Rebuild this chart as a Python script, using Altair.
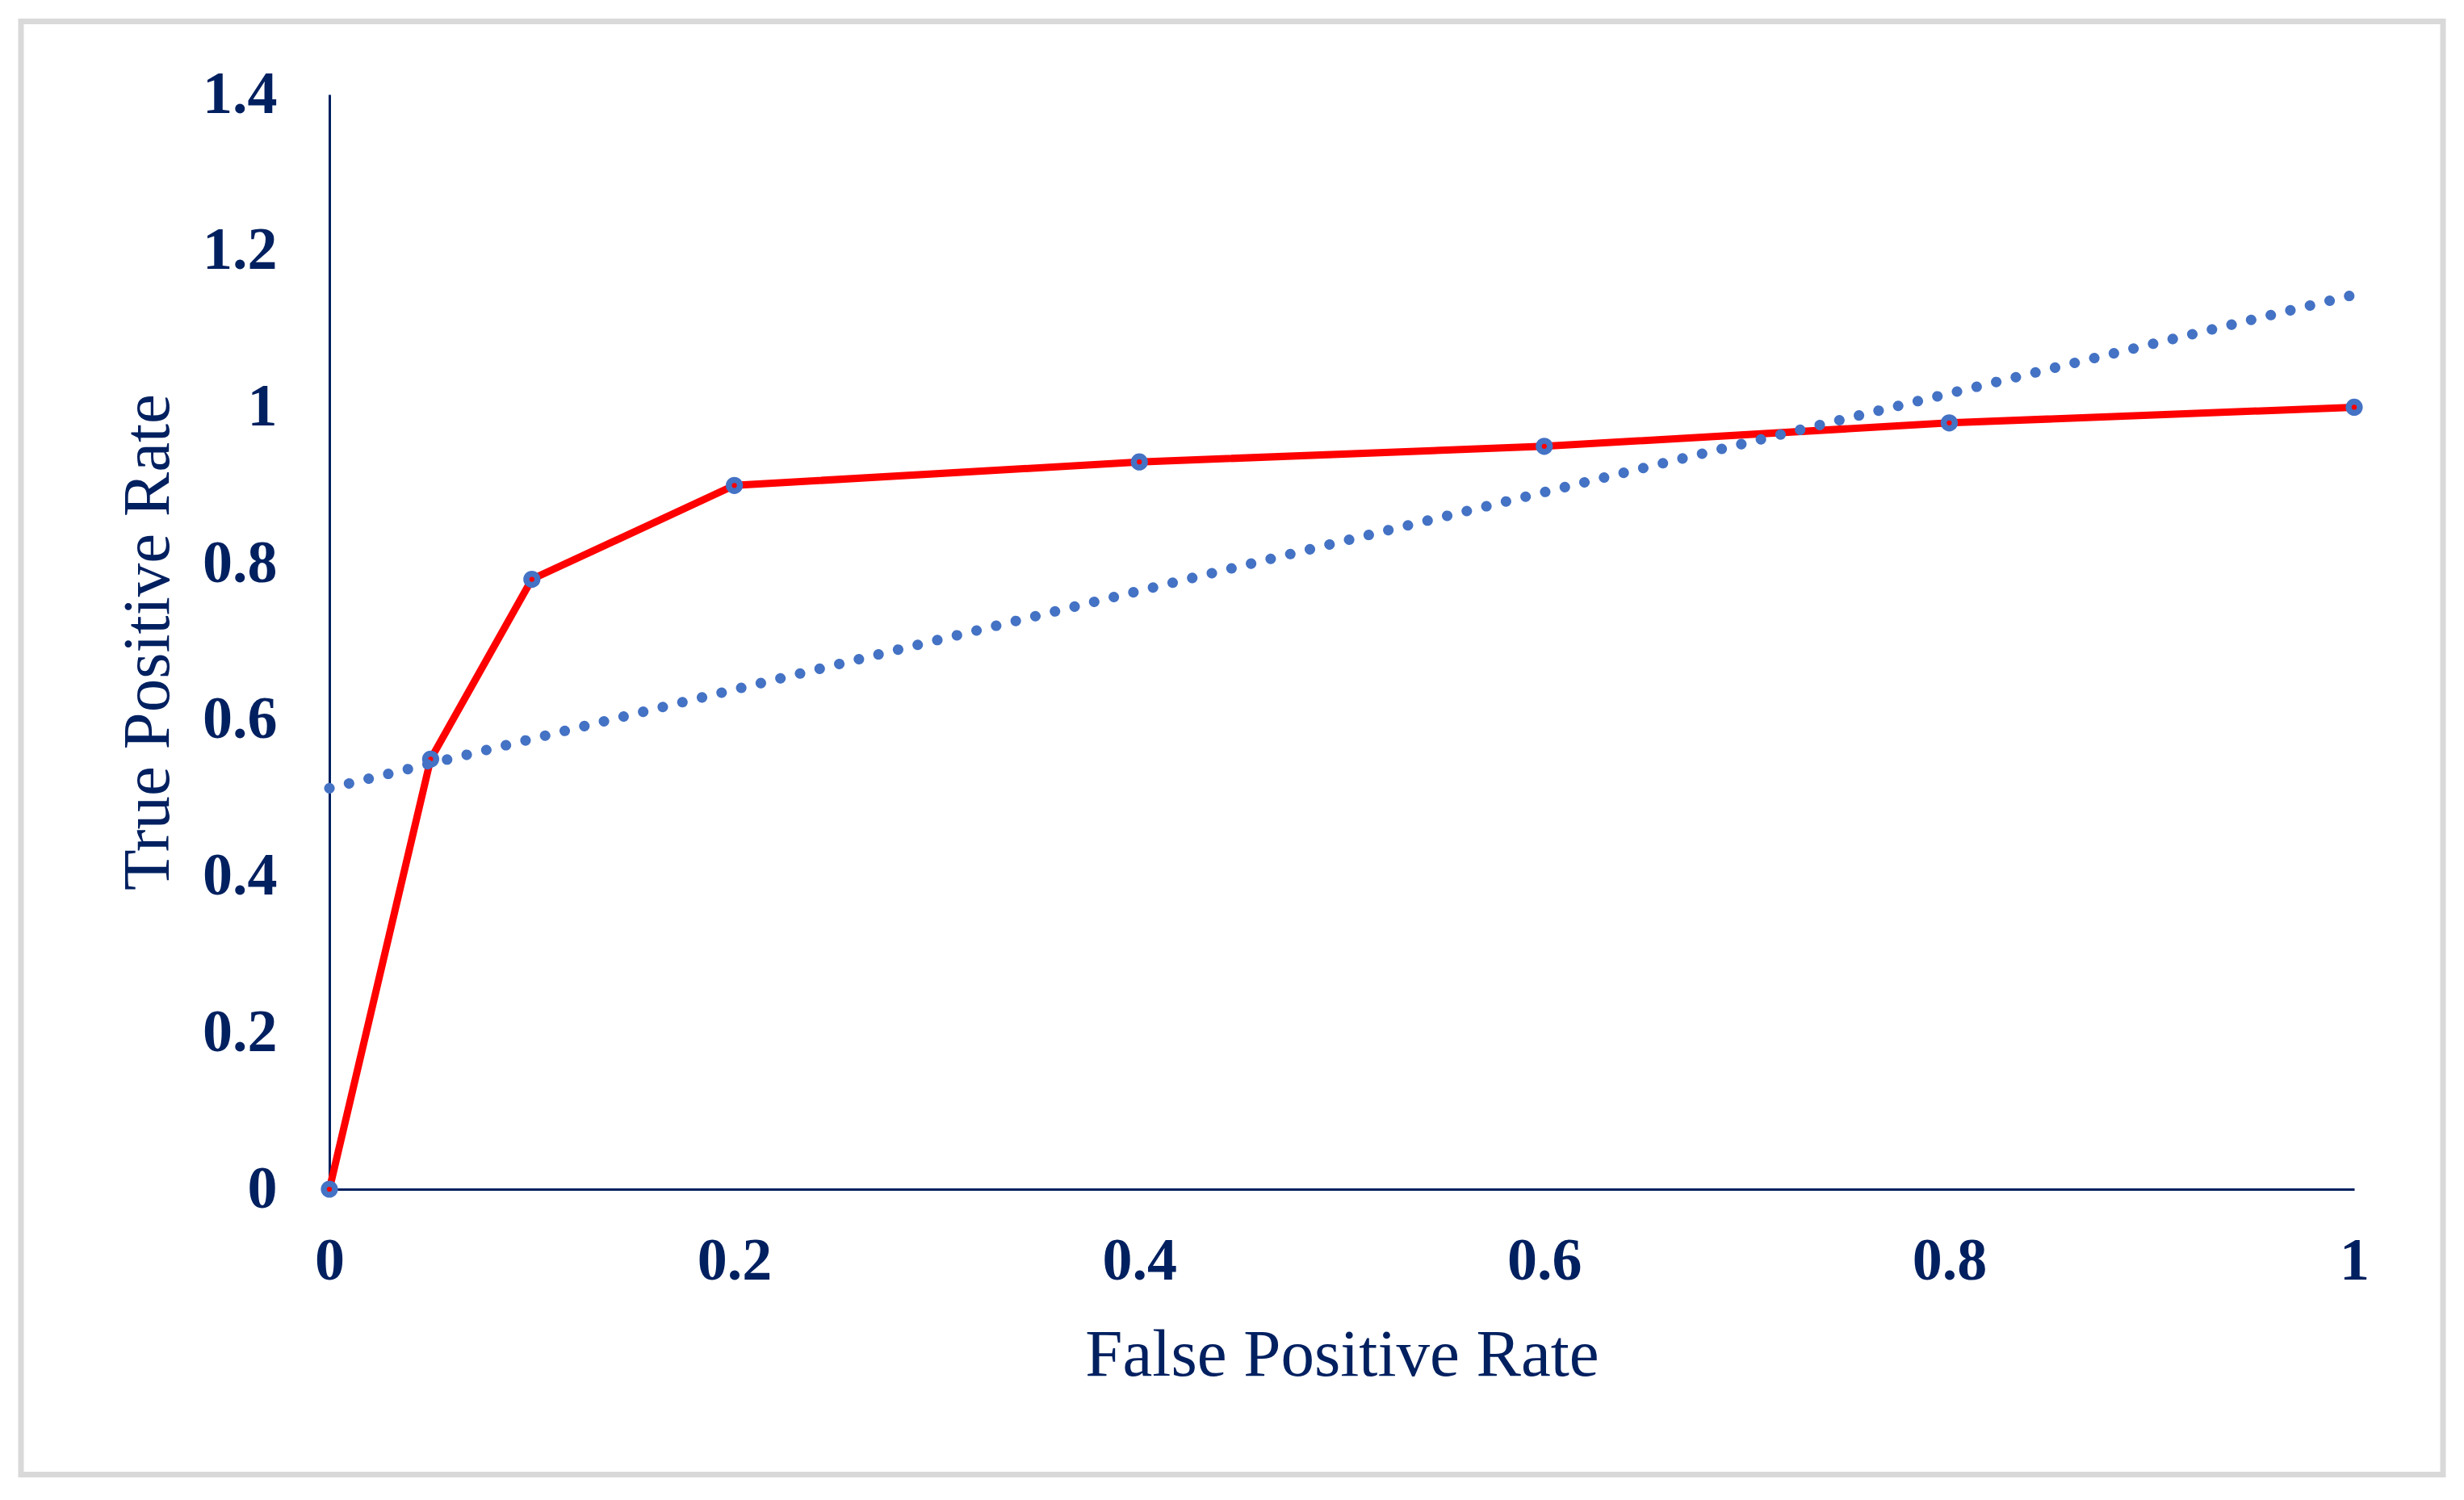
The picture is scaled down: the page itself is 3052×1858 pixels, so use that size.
import altair as alt
import pandas as pd

# Data
fpr = [0.0, 0.05, 0.1, 0.2, 0.4, 0.6, 0.8, 1.0]
tpr = [0.0, 0.55, 0.78, 0.90, 0.93, 0.95, 0.98, 1.0]
x_ticks = [0, 0.2, 0.4, 0.6, 0.8, 1]
y_ticks = [0, 0.2, 0.4, 0.6, 0.8, 1, 1.2, 1.4]

df = pd.DataFrame({"fpr": fpr, "tpr": tpr})

NAVY = "#002060"
FONT = "Liberation Serif"
W, H = 2508, 1356

x_enc = alt.X(
    "fpr:Q",
    scale=alt.Scale(domain=[0, 1], nice=False, zero=False),
    axis=alt.Axis(
        title="False Positive Rate",
        values=x_ticks,
        format="~g",
        grid=False,
        ticks=False,
        tickSize=0,
        domainColor=NAVY,
        domainWidth=3,
        labelColor=NAVY,
        labelFont=FONT,
        labelFontSize=74,
        labelFontWeight="bold",
        labelBaseline="top",
        labelPadding=53,
        labelFlush=False,
        labelOverlap=False,
        titleColor=NAVY,
        titleFont=FONT,
        titleFontSize=83,
        titleFontWeight="normal",
        titleBaseline="middle",
        titleX=W / 2,
        titleY=205,
    ),
)
y_enc = alt.Y(
    "tpr:Q",
    scale=alt.Scale(domain=[0, 1.4], nice=False, zero=False),
    axis=alt.Axis(
        title="True Positive Rate",
        values=y_ticks,
        format="~g",
        grid=False,
        ticks=False,
        tickSize=0,
        domainColor=NAVY,
        domainWidth=3,
        labelColor=NAVY,
        labelFont=FONT,
        labelFontSize=74,
        labelFontWeight="bold",
        labelPadding=65,
        labelFlush=False,
        labelOverlap=False,
        titleColor=NAVY,
        titleFont=FONT,
        titleFontSize=83,
        titleFontWeight="normal",
        titleBaseline="middle",
        titleAngle=270,
        titleX=-225,
        titleY=H / 2,
    ),
)

base = alt.Chart(df)

frame = base.transform_filter("datum.fpr == 0").mark_rect(
    fill="transparent", stroke="#D9D9D9", strokeWidth=7, clip=False
).encode(
    x=alt.value(-382), x2=alt.value(2618), y=alt.value(-90.5), y2=alt.value(1709.5)
)

roc_line = base.mark_line(color="#FF0000", strokeWidth=9).encode(
    x=x_enc, y=y_enc, order="fpr:Q"
)

markers = base.mark_point(
    shape="circle",
    filled=True,
    fill="#FF0000",
    stroke="#4472C4",
    strokeWidth=7.5,
    size=189,
    opacity=1,
).encode(x="fpr:Q", y="tpr:Q")

trend = base.transform_regression(
    "fpr", "tpr", method="linear", extent=[0, 1]
).mark_line(
    color="#4472C4", strokeWidth=13, strokeDash=[0.1, 24.9], strokeCap="round"
).encode(x="fpr:Q", y="tpr:Q")

chart = (
    alt.layer(frame, roc_line, markers, trend)
    .properties(
        width=W,
        height=H,
        autosize=alt.AutoSizeParams(type="none"),
        padding={"left": 400, "top": 109, "right": 128, "bottom": 377},
        background="white",
    )
    .configure_view(strokeWidth=0)
)

chart.save("out.html", embed_options={"renderer": "svg", "actions": False})
